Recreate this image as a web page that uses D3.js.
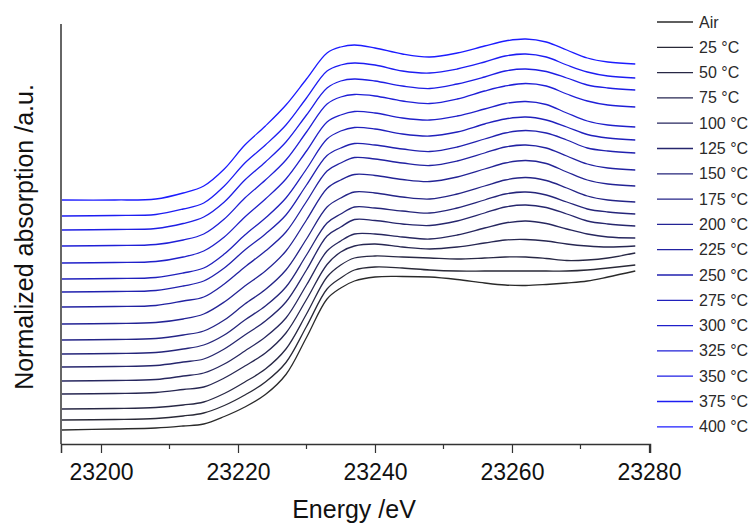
<!DOCTYPE html>
<html>
<head>
<meta charset="utf-8">
<script src="https://cdn.jsdelivr.net/npm/d3@7/dist/d3.min.js"></script>
<style>
  html, body { margin: 0; padding: 0; background: #fff; }
  svg { display: block; font-family: "Liberation Sans", Arial, sans-serif; }
</style>
</head>
<body>
<svg id="chart" width="756" height="526"></svg>
<script>
// Photon energy grid (eV) shared by every spectrum
const energy = [23194.3, 23202, 23208, 23212, 23215, 23218, 23221, 23224, 23227, 23230, 23233, 23235, 23237,
                23240, 23244, 23248, 23252, 23256, 23259, 23262, 23265, 23268, 23271, 23274, 23278];

// Normalized absorption, stacked with a vertical offset (bottom: Air, top: 400 °C)
const air  = [0.14, 0.15, 0.16, 0.18, 0.20, 0.275, 0.37, 0.495, 0.695, 1.065, 1.45, 1.56, 1.63, 1.67, 1.675, 1.67, 1.645, 1.61, 1.59, 1.585, 1.595, 1.61, 1.63, 1.67, 1.73];
const t25  = [0.24, 0.245, 0.255, 0.28, 0.31, 0.385, 0.49, 0.62, 0.815, 1.175, 1.55, 1.66, 1.74, 1.77, 1.76, 1.74, 1.73, 1.73, 1.73, 1.73, 1.73, 1.73, 1.74, 1.76, 1.79];
const t50  = [0.35, 0.355, 0.365, 0.39, 0.42, 0.505, 0.62, 0.75, 0.95, 1.30, 1.67, 1.79, 1.86, 1.88, 1.87, 1.86, 1.85, 1.86, 1.87, 1.87, 1.855, 1.835, 1.84, 1.86, 1.91];
const t75  = [0.50, 0.505, 0.515, 0.545, 0.57, 0.66, 0.78, 0.91, 1.11, 1.445, 1.795, 1.92, 1.98, 2.00, 1.97, 1.95, 1.97, 2.01, 2.04, 2.045, 2.03, 2.00, 1.98, 1.97, 1.98];
const t100 = [0.63, 0.635, 0.645, 0.68, 0.71, 0.80, 0.93, 1.07, 1.26, 1.59, 1.93, 2.03, 2.10, 2.10, 2.07, 2.05, 2.09, 2.16, 2.21, 2.23, 2.205, 2.15, 2.10, 2.07, 2.06];
const t125 = [0.77, 0.775, 0.785, 0.82, 0.85, 0.95, 1.09, 1.23, 1.42, 1.74, 2.08, 2.17, 2.245, 2.235, 2.20, 2.185, 2.23, 2.31, 2.37, 2.39, 2.365, 2.30, 2.23, 2.20, 2.18];
const t150 = [0.90, 0.905, 0.915, 0.95, 0.99, 1.09, 1.24, 1.38, 1.57, 1.89, 2.21, 2.30, 2.37, 2.36, 2.33, 2.31, 2.36, 2.44, 2.50, 2.52, 2.49, 2.42, 2.35, 2.32, 2.30];
const t175 = [1.04, 1.045, 1.055, 1.09, 1.13, 1.24, 1.40, 1.545, 1.74, 2.05, 2.37, 2.46, 2.52, 2.51, 2.47, 2.45, 2.50, 2.58, 2.64, 2.665, 2.635, 2.56, 2.48, 2.44, 2.42];
const t200 = [1.20, 1.205, 1.215, 1.25, 1.30, 1.42, 1.58, 1.73, 1.93, 2.24, 2.555, 2.64, 2.695, 2.685, 2.645, 2.625, 2.67, 2.75, 2.81, 2.835, 2.805, 2.72, 2.64, 2.60, 2.58];
const t225 = [1.37, 1.375, 1.385, 1.43, 1.47, 1.60, 1.77, 1.93, 2.12, 2.425, 2.73, 2.81, 2.865, 2.85, 2.81, 2.785, 2.83, 2.91, 2.97, 2.99, 2.96, 2.88, 2.80, 2.76, 2.74];
const t250 = [1.52, 1.525, 1.535, 1.58, 1.63, 1.76, 1.94, 2.10, 2.29, 2.59, 2.885, 2.96, 3.005, 2.99, 2.95, 2.925, 2.97, 3.05, 3.11, 3.135, 3.11, 3.04, 2.96, 2.93, 2.91];
const t275 = [1.65, 1.655, 1.665, 1.71, 1.76, 1.90, 2.09, 2.26, 2.46, 2.75, 3.05, 3.13, 3.165, 3.15, 3.10, 3.08, 3.12, 3.20, 3.25, 3.27, 3.24, 3.17, 3.095, 3.06, 3.04];
const t300 = [1.81, 1.815, 1.825, 1.87, 1.93, 2.07, 2.27, 2.45, 2.65, 2.93, 3.22, 3.29, 3.325, 3.31, 3.26, 3.24, 3.28, 3.35, 3.405, 3.425, 3.395, 3.31, 3.23, 3.19, 3.17];
const t325 = [1.98, 1.985, 1.995, 2.04, 2.10, 2.25, 2.46, 2.64, 2.84, 3.12, 3.40, 3.47, 3.495, 3.48, 3.43, 3.405, 3.45, 3.53, 3.58, 3.605, 3.58, 3.50, 3.43, 3.39, 3.37];
const t350 = [2.14, 2.145, 2.155, 2.205, 2.27, 2.42, 2.64, 2.82, 3.02, 3.29, 3.56, 3.63, 3.65, 3.63, 3.58, 3.555, 3.60, 3.67, 3.73, 3.75, 3.725, 3.66, 3.59, 3.56, 3.54];
const t375 = [2.28, 2.285, 2.295, 2.35, 2.41, 2.58, 2.81, 2.99, 3.19, 3.46, 3.73, 3.79, 3.81, 3.79, 3.73, 3.71, 3.75, 3.82, 3.88, 3.90, 3.87, 3.79, 3.72, 3.68, 3.66];
const t400 = [2.44, 2.44, 2.45, 2.51, 2.58, 2.75, 2.99, 3.18, 3.39, 3.65, 3.91, 3.97, 3.99, 3.96, 3.90, 3.87, 3.91, 3.98, 4.03, 4.05, 4.02, 3.94, 3.86, 3.82, 3.80];

const seriesLabels = ["Air", "25 °C", "50 °C", "75 °C", "100 °C", "125 °C", "150 °C", "175 °C", "200 °C",
                      "225 °C", "250 °C", "275 °C", "300 °C", "325 °C", "350 °C", "375 °C", "400 °C"];
const seriesValues = [air, t25, t50, t75, t100, t125, t150, t175, t200, t225, t250, t275, t300, t325, t350, t375, t400];

const xMajorTicks = [23200, 23220, 23240, 23260, 23280];
const xMinorTicks = [23210, 23230, 23250, 23270];

const series = seriesLabels.map((name, i) => ({
  name,
  points: energy.map((e, j) => ({ e, v: seriesValues[i][j] }))
}));

const svg = d3.select("#chart");
const plot = { left: 61, right: 650, top: 24, bottom: 444 };

const x = d3.scaleLinear().domain([23194.16, 23280.15]).range([plot.left, plot.right]);
const y = d3.scaleLinear().domain([0, 4.2]).range([plot.bottom, plot.top]);

// Colour ramp from near-black (Air) to blue (400 °C)
const color = d3.scaleLinear().domain([0, series.length - 1])
  .range(["#2a2a2a", "#1c1cff"]).interpolate(d3.interpolateRgb);

const line = d3.line()
  .x(d => x(d.e))
  .y(d => y(d.v))
  .curve(d3.curveCatmullRom.alpha(0.5));

svg.append("g").selectAll("path")
  .data(series)
  .join("path")
  .attr("fill", "none")
  .attr("stroke", (d, i) => color(i))
  .attr("stroke-width", 1.3)
  .attr("d", d => line(d.points));

// Axes: left spine without ticks, bottom with major and minor ticks
const axisColor = "#333";
svg.append("line")
  .attr("x1", plot.left).attr("x2", plot.left)
  .attr("y1", plot.top).attr("y2", plot.bottom)
  .attr("stroke", axisColor).attr("stroke-width", 1.5);

const xAxis = svg.append("g")
  .attr("transform", `translate(0,${plot.bottom})`)
  .call(d3.axisBottom(x).tickValues(xMajorTicks).tickSize(9).tickPadding(11).tickFormat(d3.format("d")));
xAxis.select(".domain").attr("stroke", axisColor).attr("stroke-width", 1.5);
xAxis.selectAll(".tick line").attr("stroke", axisColor).attr("stroke-width", 1.2);
xAxis.selectAll(".tick text")
  .attr("fill", "#111")
  .style("font-size", "23px")
  .style("font-family", "'Liberation Sans', Arial, sans-serif");

svg.append("g")
  .attr("transform", `translate(0,${plot.bottom})`)
  .selectAll("line")
  .data(xMinorTicks)
  .join("line")
  .attr("x1", d => x(d)).attr("x2", d => x(d))
  .attr("y1", 0).attr("y2", 5)
  .attr("stroke", axisColor).attr("stroke-width", 1.2);

svg.append("text")
  .attr("x", 354)
  .attr("y", 518)
  .attr("text-anchor", "middle")
  .attr("fill", "#111")
  .style("font-size", "25px")
  .text("Energy /eV");

svg.append("text")
  .attr("transform", `translate(33,${237}) rotate(-90)`)
  .attr("text-anchor", "middle")
  .attr("fill", "#111")
  .style("font-size", "25px")
  .text("Normalized absorption /a.u.");

// Legend: one short line sample and label per spectrum, Air first
const legend = svg.append("g");
const rows = legend.selectAll("g")
  .data(series)
  .join("g")
  .attr("transform", (d, i) => `translate(0,${22 + i * 25.3})`);
rows.append("line")
  .attr("x1", 657).attr("x2", 693)
  .attr("y1", 0).attr("y2", 0)
  .attr("stroke", (d, i) => color(i))
  .attr("stroke-width", 1.3);
rows.append("text")
  .attr("x", 699)
  .attr("y", 5.5)
  .attr("fill", "#2a2a2a")
  .style("font-size", "16px")
  .text(d => d.name);
</script>
</body>
</html>
